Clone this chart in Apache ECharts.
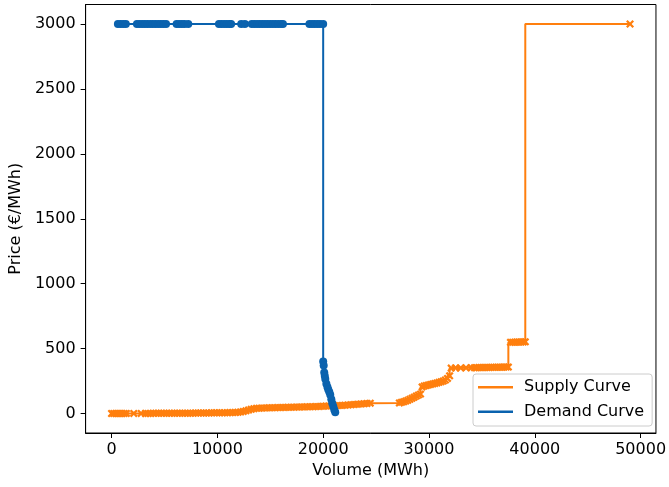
<!DOCTYPE html>
<html>
<head>
<meta charset="utf-8">
<script src="https://cdn.jsdelivr.net/npm/echarts@6/dist/echarts.min.js"></script>
<style>html,body{margin:0;padding:0;background:#fff}#chart{width:669px;height:487px}</style>
</head>
<body>
<div id="chart"></div>
<script>
// ---- Data ----
const supplyVolume = [
  0, 200, 400, 600, 800, 1000, 1200, 1400, 2100, 2800, 3200,
  3450, 3700, 3950, 4200, 4450, 4700, 4950, 5200, 5450, 5700, 5950, 6200, 6450, 6700, 6950,
  7200, 7450, 7700, 7950, 8200, 8450, 8700, 8950, 9200, 9450, 9700, 9950, 10200, 10450, 10700,
  10950, 11200, 11450, 11700, 11950,
  12200, 12450, 12700, 12950, 13200, 13450, 13700,
  13950, 14250, 14550, 14850, 15150, 15450, 15750, 16050, 16350, 16650, 16950, 17250, 17550,
  17850, 18150, 18450, 18750, 19050, 19350, 19650, 19950,
  20250, 20550, 20850, 21150, 21450, 21750, 22050, 22350, 22650, 22950, 23250, 23550, 23850,
  24150, 24450,
  27200, 27400, 27600, 27800, 28000, 28200, 28400, 28600, 28800, 29000, 29200, 29350, 29550,
  29750, 29950, 30150, 30350, 30550, 30750, 30950, 31150, 31350, 31550, 31750, 31950,
  32100, 32500, 33000, 33500, 34000,
  34300, 34500, 34700, 34900, 35100, 35300, 35500, 35700, 35900, 36100, 36300, 36500, 36700,
  36900, 37100, 37300, 37500,
  37700, 37900, 38100, 38300, 38500, 38700, 38900, 39100,
  49000
];
const supplyPrice = [
  0, 0, 0, 0, 0, 0, 1, 1, 1, 1, 1,
  1, 1, 2, 2, 2, 2, 2, 2, 2, 2, 3, 3, 3, 3, 3,
  3, 3, 3, 4, 4, 4, 4, 4, 4, 5, 5, 5, 5, 6, 6,
  6, 7, 7, 8, 9,
  12, 16, 21, 27, 33, 37, 40,
  41, 42, 43, 44, 45, 45, 46, 47, 47, 48, 49, 49, 50,
  51, 51, 52, 53, 53, 54, 55, 56,
  57, 58, 59, 60, 61, 62, 64, 66, 68, 70, 72, 74, 76,
  78, 80,
  82, 86, 90, 96, 102, 110, 118, 126, 134, 142, 150, 205, 212,
  216, 220, 224, 228, 232, 236, 240, 245, 250, 258, 270, 290,
  350, 351, 351, 352, 353,
  353, 353, 354, 354, 354, 355, 355, 355, 356, 356, 356, 357, 357,
  357, 358, 358, 358,
  548, 549, 549, 550, 550, 551, 551, 552,
  3000
];
const demandVolume = [
  600, 850, 1100, 1350, 2400, 2650, 2900, 3150, 3400, 3650, 3900, 4150, 4400, 4650, 4900, 5150,
  6150, 6400, 6650, 6900, 7250, 10150, 10400, 10650, 10900, 11150, 11300, 12250, 12600,
  13250, 13500, 13750, 14000, 14250, 14500, 14750, 15000, 15250, 15500, 15750, 16000, 16200,
  18700, 18950, 19200, 19450, 19700, 20000,
  20000, 20050, 20100, 20150, 20200, 20300, 20400, 20480, 20580, 20670, 20770, 20860, 20960,
  21050, 21140
];
const demandPrice = [
  3000, 3000, 3000, 3000, 3000, 3000, 3000, 3000, 3000, 3000, 3000, 3000, 3000, 3000, 3000, 3000,
  3000, 3000, 3000, 3000, 3000, 3000, 3000, 3000, 3000, 3000, 3000, 3000, 3000,
  3000, 3000, 3000, 3000, 3000, 3000, 3000, 3000, 3000, 3000, 3000, 3000, 3000,
  3000, 3000, 3000, 3000, 3000, 3000,
  400, 370, 315, 290, 265, 230, 205, 185, 165, 145, 110, 80, 55,
  30, 10
];
const xTicks = [0, 10000, 20000, 30000, 40000, 50000];
const yTicks = [0, 500, 1000, 1500, 2000, 2500, 3000];
const seriesNames = ['Supply Curve', 'Demand Curve'];

const supplyData = supplyVolume.map((v, i) => [v, supplyPrice[i]]);
const demandData = demandVolume.map((v, i) => [v, demandPrice[i]]);

const ORANGE = '#ff7f0e';
const BLUE = '#0a62ae';
const FONT = 'DejaVu Sans';
const FS = 16;
const crossPath = 'path://M2,0 L5,3 L8,0 L10,2 L7,5 L10,8 L8,10 L5,7 L2,10 L0,8 L3,5 L0,2 Z';

const chart = echarts.init(document.getElementById('chart'), null, {renderer: 'canvas'});
chart.setOption({
  animation: false,
  backgroundColor: '#fff',
  textStyle: {fontFamily: FONT},
  grid: {left: 83, right: 9, top: 4.5, bottom: 54, show: true, borderColor: '#000', borderWidth: 1, backgroundColor: 'transparent'},
  xAxis: {
    type: 'value', min: -2450, max: 51450,
    name: 'Volume (MWh)', nameLocation: 'middle', nameGap: 28,
    nameTextStyle: {fontFamily: FONT, fontSize: FS, color: '#000'},
    axisLine: {show: true, onZero: false, lineStyle: {color: '#000', width: 1}},
    axisTick: {show: true, length: 5, customValues: xTicks, lineStyle: {color: '#000'}},
    axisLabel: {customValues: xTicks, formatter: v => String(v), fontFamily: FONT, fontSize: FS, color: '#000', margin: 9},
    splitLine: {show: false}
  },
  yAxis: {
    type: 'value', min: -150, max: 3150,
    name: 'Price (€/MWh)', nameLocation: 'middle', nameGap: 58, nameRotate: 90,
    nameTextStyle: {fontFamily: FONT, fontSize: FS, color: '#000'},
    axisLine: {show: true, onZero: false, lineStyle: {color: '#000', width: 1}},
    axisTick: {show: true, length: 5, customValues: yTicks, lineStyle: {color: '#000'}},
    axisLabel: {customValues: yTicks, formatter: v => String(v), fontFamily: FONT, fontSize: FS, color: '#000', margin: 10},
    splitLine: {show: false}
  },
  legend: {
    orient: 'vertical', left: 473, top: 374,
    data: seriesNames,
    icon: 'rect', itemWidth: 35, itemHeight: 2.5, itemGap: 6,
    padding: [4, 8, 5, 5],
    borderColor: '#cccccc', borderWidth: 1, borderRadius: 3, backgroundColor: 'rgba(255,255,255,0.8)',
    textStyle: {fontFamily: FONT, fontSize: FS, color: '#000', lineHeight: 18.5, padding: [0, 0, 0, 6]}
  },
  series: [
    {
      name: seriesNames[0], type: 'line', step: 'start', data: supplyData,
      showSymbol: true, showAllSymbol: true, symbol: crossPath, symbolSize: 8,
      itemStyle: {color: ORANGE}, lineStyle: {color: ORANGE, width: 2}, z: 2
    },
    {
      name: seriesNames[1], type: 'line', step: 'start', data: demandData,
      showSymbol: true, showAllSymbol: true, symbol: 'circle', symbolSize: 8,
      itemStyle: {color: BLUE}, lineStyle: {color: BLUE, width: 2}, z: 3
    }
  ]
});
</script>
</body>
</html>
